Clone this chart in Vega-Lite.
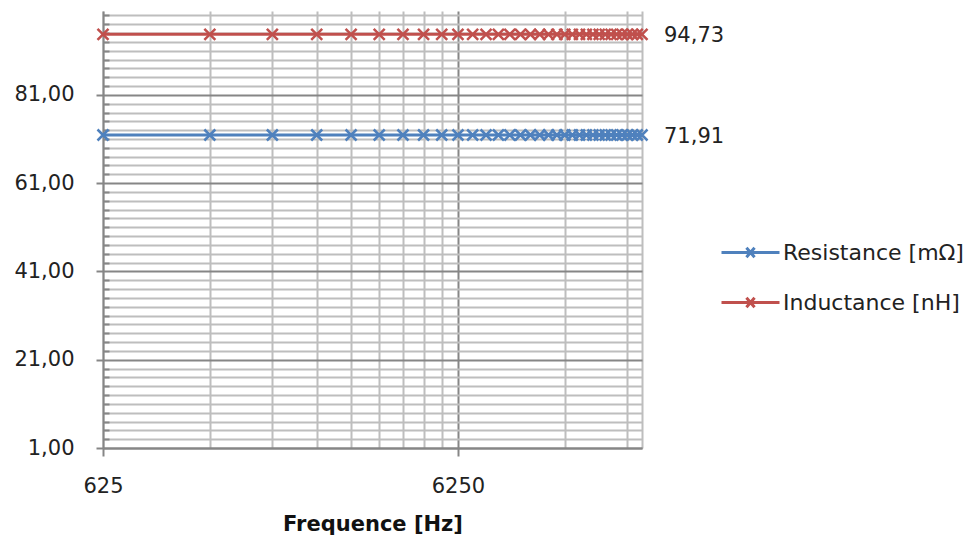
{
  "$schema": "https://vega.github.io/schema/vega-lite/v6.json",
  "autosize": {"type": "none"},
  "width": 539,
  "height": 437,
  "padding": {"left": 103, "top": 11, "right": 331, "bottom": 94},
  "background": "white",
  "config": {
    "locale": {"number": {"decimal": ",", "thousands": ".", "grouping": [3], "currency": ["", " €"]}},
    "font": "DejaVu Sans",
    "view": {"stroke": null},
    "axis": {"labelFont": "DejaVu Sans", "titleFont": "DejaVu Sans", "labelColor": "#222222", "titleColor": "#111111"}
  },
  "data": {
    "values": [
      {"freq": 625, "series": "Resistance [mΩ]", "value": 71.91}, {"freq": 625, "series": "Inductance [nH]", "value": 94.73},
      {"freq": 1250, "series": "Resistance [mΩ]", "value": 71.91}, {"freq": 1250, "series": "Inductance [nH]", "value": 94.73},
      {"freq": 1875, "series": "Resistance [mΩ]", "value": 71.91}, {"freq": 1875, "series": "Inductance [nH]", "value": 94.73},
      {"freq": 2500, "series": "Resistance [mΩ]", "value": 71.91}, {"freq": 2500, "series": "Inductance [nH]", "value": 94.73},
      {"freq": 3125, "series": "Resistance [mΩ]", "value": 71.91}, {"freq": 3125, "series": "Inductance [nH]", "value": 94.73},
      {"freq": 3750, "series": "Resistance [mΩ]", "value": 71.91}, {"freq": 3750, "series": "Inductance [nH]", "value": 94.73},
      {"freq": 4375, "series": "Resistance [mΩ]", "value": 71.91}, {"freq": 4375, "series": "Inductance [nH]", "value": 94.73},
      {"freq": 5000, "series": "Resistance [mΩ]", "value": 71.91}, {"freq": 5000, "series": "Inductance [nH]", "value": 94.73},
      {"freq": 5625, "series": "Resistance [mΩ]", "value": 71.91}, {"freq": 5625, "series": "Inductance [nH]", "value": 94.73},
      {"freq": 6250, "series": "Resistance [mΩ]", "value": 71.91}, {"freq": 6250, "series": "Inductance [nH]", "value": 94.73},
      {"freq": 6875, "series": "Resistance [mΩ]", "value": 71.91}, {"freq": 6875, "series": "Inductance [nH]", "value": 94.73},
      {"freq": 7500, "series": "Resistance [mΩ]", "value": 71.91}, {"freq": 7500, "series": "Inductance [nH]", "value": 94.73},
      {"freq": 8125, "series": "Resistance [mΩ]", "value": 71.91}, {"freq": 8125, "series": "Inductance [nH]", "value": 94.73},
      {"freq": 8750, "series": "Resistance [mΩ]", "value": 71.91}, {"freq": 8750, "series": "Inductance [nH]", "value": 94.73},
      {"freq": 9375, "series": "Resistance [mΩ]", "value": 71.91}, {"freq": 9375, "series": "Inductance [nH]", "value": 94.73},
      {"freq": 10000, "series": "Resistance [mΩ]", "value": 71.91}, {"freq": 10000, "series": "Inductance [nH]", "value": 94.73},
      {"freq": 10625, "series": "Resistance [mΩ]", "value": 71.91}, {"freq": 10625, "series": "Inductance [nH]", "value": 94.73},
      {"freq": 11250, "series": "Resistance [mΩ]", "value": 71.91}, {"freq": 11250, "series": "Inductance [nH]", "value": 94.73},
      {"freq": 11875, "series": "Resistance [mΩ]", "value": 71.91}, {"freq": 11875, "series": "Inductance [nH]", "value": 94.73},
      {"freq": 12500, "series": "Resistance [mΩ]", "value": 71.91}, {"freq": 12500, "series": "Inductance [nH]", "value": 94.73},
      {"freq": 13125, "series": "Resistance [mΩ]", "value": 71.91}, {"freq": 13125, "series": "Inductance [nH]", "value": 94.73},
      {"freq": 13750, "series": "Resistance [mΩ]", "value": 71.91}, {"freq": 13750, "series": "Inductance [nH]", "value": 94.73},
      {"freq": 14375, "series": "Resistance [mΩ]", "value": 71.91}, {"freq": 14375, "series": "Inductance [nH]", "value": 94.73},
      {"freq": 15000, "series": "Resistance [mΩ]", "value": 71.91}, {"freq": 15000, "series": "Inductance [nH]", "value": 94.73},
      {"freq": 15625, "series": "Resistance [mΩ]", "value": 71.91}, {"freq": 15625, "series": "Inductance [nH]", "value": 94.73},
      {"freq": 16250, "series": "Resistance [mΩ]", "value": 71.91}, {"freq": 16250, "series": "Inductance [nH]", "value": 94.73},
      {"freq": 16875, "series": "Resistance [mΩ]", "value": 71.91}, {"freq": 16875, "series": "Inductance [nH]", "value": 94.73},
      {"freq": 17500, "series": "Resistance [mΩ]", "value": 71.91}, {"freq": 17500, "series": "Inductance [nH]", "value": 94.73},
      {"freq": 18125, "series": "Resistance [mΩ]", "value": 71.91}, {"freq": 18125, "series": "Inductance [nH]", "value": 94.73},
      {"freq": 18750, "series": "Resistance [mΩ]", "value": 71.91}, {"freq": 18750, "series": "Inductance [nH]", "value": 94.73},
      {"freq": 19375, "series": "Resistance [mΩ]", "value": 71.91}, {"freq": 19375, "series": "Inductance [nH]", "value": 94.73},
      {"freq": 20000, "series": "Resistance [mΩ]", "value": 71.91}, {"freq": 20000, "series": "Inductance [nH]", "value": 94.73},
      {"freq": 20625, "series": "Resistance [mΩ]", "value": 71.91}, {"freq": 20625, "series": "Inductance [nH]", "value": 94.73}
    ]
  },
  "encoding": {
    "x": {
      "field": "freq", "type": "quantitative",
      "scale": {"type": "log", "domain": [625, 20625], "nice": false, "zero": false},
      "axis": {
        "title": "Frequence [Hz]",
        "titleFontSize": 21, "titleFontWeight": "bold", "titlePadding": 17,
        "values": [625, 1250, 1875, 2500, 3125, 3750, 4375, 5000, 5625, 6250, 12500, 18750, 20625],
        "format": "d",
        "labelExpr": "datum.value == 625 || datum.value == 6250 ? datum.label : ''",
        "labelFontSize": 21, "labelPadding": 19, "labelFlush": false, "labelOverlap": false,
        "grid": true,
        "gridColor": {"condition": {"test": "datum.value == 6250", "value": "#868686"}, "value": "#BEBEBE"},
        "gridWidth": 2,
        "domainColor": "#868686", "domainWidth": 2,
        "tickColor": "#868686", "tickWidth": 2, "tickSize": 8,
        "tickOpacity": {"condition": {"test": "datum.value == 625 || datum.value == 6250", "value": 1}, "value": 0}
      }
    },
    "y": {
      "field": "value", "type": "quantitative",
      "scale": {"domain": [1, 100], "nice": false, "zero": false},
      "axis": {
        "title": null,
        "values": [1,3,5,7,9,11,13,15,17,19,21,23,25,27,29,31,33,35,37,39,41,43,45,47,49,51,53,55,57,59,61,63,65,67,69,71,73,75,77,79,81,83,85,87,89,91,93,95,97,99],
        "format": ".2f",
        "labelExpr": "(datum.value - 1) % 20 == 0 ? datum.label : ''",
        "labelFontSize": 21, "labelPadding": 22, "labelOverlap": false, "labelFlush": false,
        "grid": true,
        "gridColor": {"condition": {"test": "(datum.value - 1) % 20 == 0", "value": "#868686"}, "value": "#BEBEBE"},
        "gridWidth": 2,
        "domainColor": "#868686", "domainWidth": 2,
        "tickColor": "#868686", "tickWidth": 2,
        "tickSize": {"condition": {"test": "(datum.value - 1) % 20 == 0", "value": 7}, "value": -6}
      }
    },
    "color": {
      "field": "series", "type": "nominal",
      "scale": {"domain": ["Resistance [mΩ]", "Inductance [nH]"], "range": ["#4F81BD", "#C0504D"]},
      "legend": {
        "title": null, "orient": "none", "legendX": 617, "legendY": 211,
        "padding": 0,
        "symbolType": "M-1,0L1,0M-0.14,-0.16L0.14,0.16M-0.14,0.16L0.14,-0.16",
        "symbolSize": 3364, "symbolStrokeWidth": 3, "symbolFillColor": "transparent",
        "labelFontSize": 22, "labelFont": "DejaVu Sans", "labelColor": "#222222", "labelOffset": 2,
        "rowPadding": 8, "labelLimit": 300
      }
    }
  },
  "layer": [
    {"mark": {"type": "line", "strokeWidth": 3}},
    {"mark": {"type": "point", "shape": "M-1,-1L1,1M-1,1L1,-1", "size": 121, "filled": false, "strokeWidth": 2.5, "opacity": 1}},
    {
      "transform": [{"filter": "datum.freq == 20625"}],
      "mark": {"type": "text", "align": "left", "baseline": "middle", "dx": 22, "dy": 2, "fontSize": 21, "font": "DejaVu Sans", "color": "#222222"},
      "encoding": {"text": {"field": "value", "type": "quantitative", "format": ".2f"}, "color": {"value": "#222222"}}
    }
  ]
}
